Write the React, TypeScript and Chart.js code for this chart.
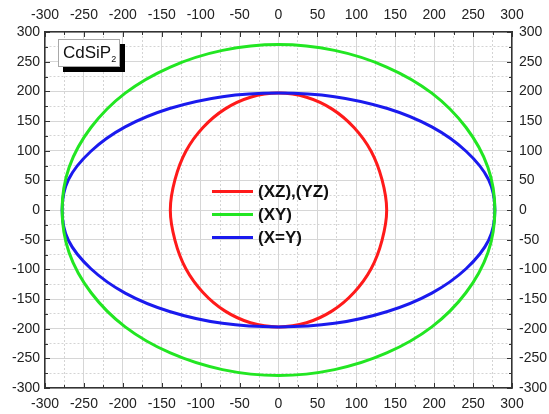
import React, { useEffect, useRef } from 'react';
import { Chart, registerables } from 'chart.js';

Chart.register(...registerables);

// Axis range shared by all four axes
const AXIS_MIN = -300;
const AXIS_MAX = 300;
const MINOR_STEP = 25;
const MAJOR_STEP = 50;

// Closed polar curves, sampled every 15 degrees starting on the +x axis (last point closes the loop)
const xzYzX = [139, 133, 119, 97, 69, 36, 0, -36, -69, -97, -119, -133, -139, -133, -119, -97, -69, -36, 0, 36, 69, 97, 119, 133, 139];
const xzYzY = [0, 51, 99, 139, 170, 190, 197, 190, 170, 139, 99, 51, 0, -51, -99, -139, -170, -190, -197, -190, -170, -139, -99, -51, 0];

const xyX = [278, 269, 241, 197, 139, 72, 0, -72, -139, -197, -241, -269, -278, -269, -241, -197, -139, -72, 0, 72, 139, 197, 241, 269, 278];
const xyY = [0, 72, 139, 197, 241, 269, 279, 269, 241, 197, 139, 72, 0, -72, -139, -197, -241, -269, -279, -269, -241, -197, -139, -72, 0];

const xEqYX = [278, 270, 241, 197, 140, 72, 0, -72, -140, -197, -241, -270, -278, -270, -241, -197, -140, -72, 0, 72, 140, 197, 241, 270, 278];
const xEqYY = [0, 51, 99, 140, 171, 191, 197, 191, 171, 140, 99, 51, 0, -51, -99, -140, -171, -191, -197, -191, -171, -140, -99, -51, 0];

const seriesLabels = ['(XZ),(YZ)', '(XY)', '(X=Y)'];
const seriesColors = ['#ff1a1a', '#22e622', '#1a1aee'];
const seriesX = [xzYzX, xyX, xEqYX];
const seriesY = [xzYzY, xyY, xEqYY];
// green drawn above blue, blue above red
const seriesOrder = [2, 0, 1];

const sampleLabel = 'CdSiP';
const sampleSub = '2';

const FONT = "'Liberation Sans', Arial, Helvetica, sans-serif";

// Pad the closed loop with one point on each side so the spline stays smooth at the join;
// the two padding segments are drawn transparent.
function loopPoints(xs: number[], ys: number[]) {
  const pts = xs.map((x, i) => ({ x, y: ys[i] }));
  return [pts[pts.length - 2], ...pts, pts[1]];
}

// Tick marks pointing into the plot frame on all four sides
const inwardTicks = {
  id: 'inwardTicks',
  afterDraw(chart: any) {
    const { ctx, chartArea: a, scales } = chart;
    ctx.save();
    ctx.strokeStyle = '#333';
    ctx.lineWidth = 1;
    ctx.beginPath();
    for (const t of scales.x.ticks) {
      const len = t.value % MAJOR_STEP === 0 ? 5 : 3;
      const px = Math.round(scales.x.getPixelForValue(t.value)) + 0.5;
      ctx.moveTo(px, a.bottom);
      ctx.lineTo(px, a.bottom - len);
      ctx.moveTo(px, a.top);
      ctx.lineTo(px, a.top + len);
    }
    for (const t of scales.y.ticks) {
      const len = t.value % MAJOR_STEP === 0 ? 5 : 3;
      const py = Math.round(scales.y.getPixelForValue(t.value)) + 0.5;
      ctx.moveTo(a.left, py);
      ctx.lineTo(a.left + len, py);
      ctx.moveTo(a.right, py);
      ctx.lineTo(a.right - len, py);
    }
    ctx.stroke();
    ctx.restore();
  },
};

const tickLabel = (v: any) => (Number(v) % MAJOR_STEP === 0 ? String(v) : '');

function axis(position: string, fit: number, padding: number, gridOn: boolean) {
  const horizontal = position === 'top' || position === 'bottom';
  return {
    type: 'linear',
    position,
    min: AXIS_MIN,
    max: AXIS_MAX,
    afterFit: (s: any) => {
      if (horizontal) s.height = fit;
      else s.width = fit;
    },
    ticks: {
      stepSize: MINOR_STEP,
      autoSkip: false,
      maxRotation: 0,
      padding,
      color: '#222',
      font: { family: FONT, size: 14 },
      callback: tickLabel,
    },
    grid: {
      drawOnChartArea: gridOn,
      drawTicks: false,
      lineWidth: 1,
      color: (c: any) =>
        c.tick && c.tick.value % MAJOR_STEP !== 0 ? '#d4d4d4' : '#d6d6d6',
    },
    border: {
      display: true,
      color: '#333',
      width: 1.5,
      dash: (c: any) => (c.tick && c.tick.value % MAJOR_STEP !== 0 ? [2, 2] : []),
    },
  };
}

export default function App() {
  const canvasRef = useRef<HTMLCanvasElement | null>(null);

  useEffect(() => {
    if (!canvasRef.current) return;
    const datasets = seriesLabels.map((label, i) => {
      const data = loopPoints(seriesX[i], seriesY[i]);
      const n = data.length;
      const color = seriesColors[i];
      return {
        label,
        data,
        order: seriesOrder[i],
        showLine: true,
        borderColor: color,
        backgroundColor: color,
        borderWidth: 3,
        pointRadius: 0,
        pointHoverRadius: 0,
        tension: 0.34,
        fill: false,
        segment: {
          borderColor: (c: any) =>
            c.p0DataIndex === 0 || c.p1DataIndex === n - 1 ? 'rgba(0,0,0,0)' : color,
        },
      };
    });

    const chart = new Chart(canvasRef.current, {
      type: 'scatter',
      data: { datasets } as any,
      options: {
        animation: false,
        responsive: false,
        maintainAspectRatio: false,
        layout: { padding: 0 },
        plugins: { legend: { display: false }, tooltip: { enabled: false } },
        scales: {
          x: axis('bottom', 26, 8, true),
          x2: axis('top', 32, 8, false),
          y: axis('left', 45, 5, true),
          y2: axis('right', 37, 7, false),
        } as any,
      },
      plugins: [inwardTicks],
    });
    return () => chart.destroy();
  }, []);

  return (
    <div
      style={{
        position: 'fixed',
        left: 0,
        top: 0,
        width: 549,
        height: 414,
        background: '#fff',
        fontFamily: FONT,
      }}
    >
      <canvas ref={canvasRef} width={549} height={414} style={{ display: 'block' }} />
      <div
        style={{
          position: 'absolute',
          left: 58,
          top: 39,
          width: 62,
          height: 28,
          boxSizing: 'border-box',
          border: '1px solid #a8a8a8',
          background: '#fff',
          boxShadow: '5px 5px 0 #000',
          color: '#111',
          fontSize: 17,
          lineHeight: '17px',
          padding: '4px 0 0 4px',
          whiteSpace: 'nowrap',
        }}
      >
        {sampleLabel}
        <sub style={{ fontSize: 9, verticalAlign: 'baseline', position: 'relative', top: 4 }}>
          {sampleSub}
        </sub>
      </div>
      <div style={{ position: 'absolute', left: 212, top: 180 }}>
        {seriesLabels.map((label, i) => (
          <div key={label} style={{ display: 'flex', alignItems: 'center', height: 23 }}>
            <div style={{ width: 41, height: 3, background: seriesColors[i], marginRight: 5 }} />
            <span style={{ fontSize: 17, fontWeight: 'bold', color: '#111', lineHeight: '23px' }}>
              {label}
            </span>
          </div>
        ))}
      </div>
    </div>
  );
}
